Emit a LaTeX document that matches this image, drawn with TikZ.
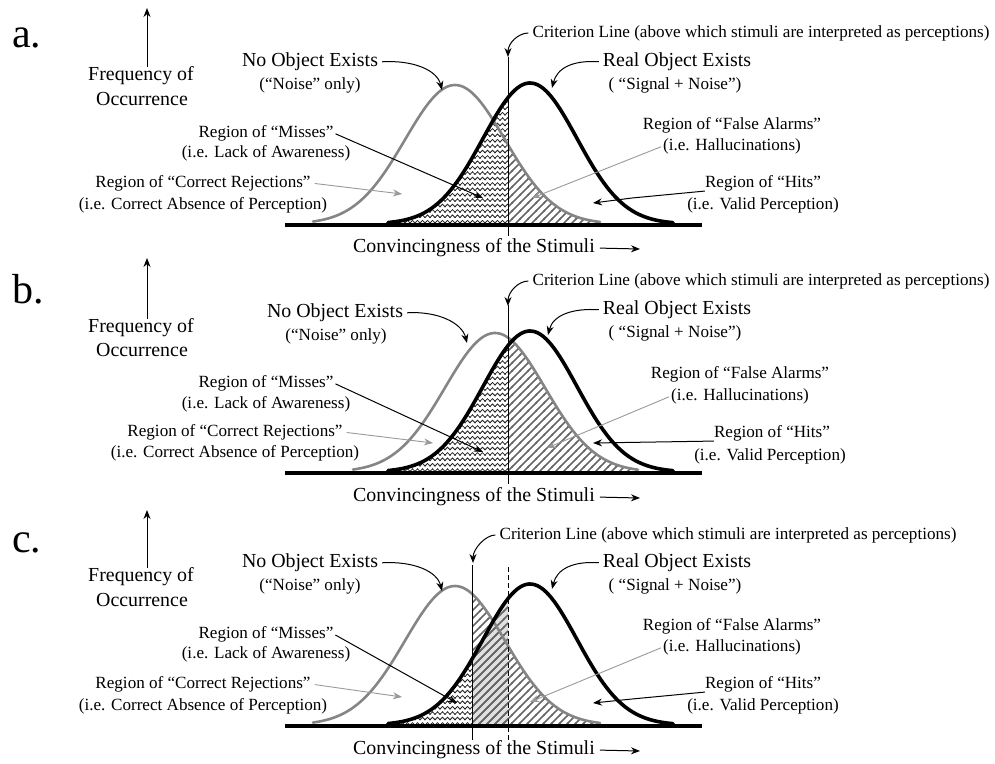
\documentclass[tikz,border=0pt]{standalone}
\usepackage{fontspec}
\setmainfont{Liberation Serif}
\usetikzlibrary{arrows.meta,patterns.meta}

\tikzdeclarepattern{
  name=zigzag,
  type=uncolored,
  bounding box={(-1pt,-1pt) and (6pt,7pt)},
  tile size={(5pt,5.4pt)},
  code={\draw[line width=0.8pt] (-0.6pt,0.6pt) -- (0pt,0pt) -- (2.5pt,2.6pt) -- (5pt,0pt) -- (5.6pt,0.6pt);}
}
\tikzdeclarepattern{
  name=diag,
  type=uncolored,
  bounding box={(-1pt,-1pt) and (9pt,9pt)},
  tile size={(8pt,8pt)},
  code={\draw[line width=1.5pt] (-1pt,-1pt) -- (9pt,9pt);}
}

\begin{document}
\begin{tikzpicture}[x=1pt,y=-1pt,
  declare function={ga(\x,\m,\s,\h)=224-\h*exp(-0.5*((\x-\m)/\s)*((\x-\m)/\s));},
  big/.style={font=\fontsize{19.9}{23}\selectfont, inner sep=0pt},
  small/.style={font=\fontsize{17.1}{20}\selectfont, inner sep=0pt},
  letter/.style={font=\fontsize{42}{46}\selectfont, inner sep=0pt, anchor=base west},
  noisecurve/.style={draw=black!48, line width=2.6pt, line join=round, line cap=round},
  signalcurve/.style={draw=black, line width=3.6pt, line join=round, line cap=round},
  axisline/.style={line width=4pt},
  critline/.style={line width=1pt},
  dashcrit/.style={line width=1pt, dash pattern=on 5pt off 3pt},
  pointer/.style={-{Stealth[length=9pt,width=7pt]}, line width=1pt},
  graypointer/.style={pointer, draw=black!40, line width=0.9pt},
  zz/.style={pattern=zigzag, pattern color=black!85},
  dg/.style={pattern=diag, pattern color=black!60},
]
\useasboundingbox (0,0) rectangle (995,763);

% ---------------- left column ----------------
\node[letter] (letA) at (12,47) {a.};
\node[letter] (letB) at (12,303) {b.};
\node[letter] (letC) at (12,552) {c.};

\node[big] (freqA1) at (141,76) {Frequency of};
\node[big] (freqA2) at (142,99) {Occurrence};
\coordinate (ftopA) at (147,8);
\draw[pointer] (ftopA |- freqA1.north) -- (ftopA);

\node[big] (freqB1) at (141,328) {Frequency of};
\node[big] (freqB2) at (142,350) {Occurrence};
\coordinate (ftopB) at (147,258);
\draw[pointer] (ftopB |- freqB1.north) -- (ftopB);

\node[big] (freqC1) at (141,577) {Frequency of};
\node[big] (freqC2) at (142,600) {Occurrence};
\coordinate (ftopC) at (147,510);
\draw[pointer] (ftopC |- freqC1.north) -- (ftopC);

% ---------------- panel a ----------------
\begin{scope}
\fill[zz] (388,224) -- plot[domain=388:508,samples=60] (\x,{ga(\x,530,47,141)}) -- (508,224) -- cycle;
\fill[dg] (508,224) -- plot[domain=508:600,samples=50] (\x,{ga(\x,455,50,139)}) -- (600,224) -- cycle;
\draw[noisecurve] plot[domain=313:600,samples=100] (\x,{ga(\x,455,50,139)});
\draw[signalcurve] plot[domain=388:673,samples=100] (\x,{ga(\x,530,47,141)});
\draw[axisline] (285,225) -- (702,225);
\draw[critline] (508,57) -- (508,236);

\node[small] (critA) at (761,33) {Criterion Line (above which stimuli are interpreted as perceptions)};
\coordinate (crittipA) at (508,57);
\draw[pointer, shorten <=4pt] (critA.west) .. controls +(-14,0) and +(0,-14) .. (crittipA);

\node[big] (noiseA1) at (310,62) {No Object Exists};
\node[small] (noiseA2) at (310,85) {(“Noise” only)};
\coordinate (noisetipA) at (442,90);
\draw[pointer, shorten <=4pt] (noiseA1.east) .. controls +(35,-2) and +(-5,-20) .. (noisetipA);

\node[big] (realA1) at (677,62) {Real Object Exists};
\node[small] (realA2) at (675,85) {( “Signal + Noise”)};
\coordinate (realtipA) at (552,88);
\draw[pointer, shorten <=4pt] (realA1.west) .. controls +(-30,-2) and +(5,-20) .. (realtipA);

\node[small] (missA1) at (266,133) {Region of “Misses”};
\node[small] (missA2) at (266,153) {(i.e. Lack of Awareness)};
\coordinate (misstipA) at (483,198);
\draw[pointer, shorten <=2pt] (missA1.east) -- (misstipA);

\node[small] (crA1) at (203,183) {Region of “Correct Rejections”};
\node[small] (crA2) at (203,205) {(i.e. Correct Absence of Perception)};
\coordinate (crtipA) at (402,194);
\draw[graypointer, shorten <=4pt] (crA1.east) -- (crtipA);

\node[small] (faA1) at (732,125) {Region of “False Alarms”};
\node[small] (faA2) at (732,146) {(i.e. Hallucinations)};
\coordinate (fatipA) at (532,198);
\draw[graypointer, shorten <=2pt] (faA2.west) -- (fatipA);

\node[small] (hitA1) at (763,183) {Region of “Hits”};
\node[small] (hitA2) at (763,205) {(i.e. Valid Perception)};
\coordinate (hitbendA) at (632,198);
\coordinate (hittipA) at (593,203);
\draw[pointer] (hitA1.south west) -- (hitbendA) -- (hittipA);

\node[big] (convA) at (474,248) {Convincingness of the Stimuli};
\coordinate (convtipA) at (640,249);
\draw[pointer, shorten <=5pt] (convA.east) -- (convtipA);
\end{scope}

% ---------------- panel b ----------------
\begin{scope}[yshift=-248pt]
\fill[zz] (388,224) -- plot[domain=388:508,samples=60] (\x,{ga(\x,530,47,141)}) -- (508,224) -- cycle;
\fill[dg] (508,224) -- plot[domain=508:638,samples=60] (\x,{ga(\x,495,50,139)}) -- (638,224) -- cycle;
\draw[noisecurve] plot[domain=353:638,samples=100] (\x,{ga(\x,495,50,139)});
\draw[signalcurve] plot[domain=388:673,samples=100] (\x,{ga(\x,530,47,141)});
\draw[axisline] (285,225) -- (702,225);
\draw[critline] (508,57) -- (508,236);

\node[small] (critB) at (761,33) {Criterion Line (above which stimuli are interpreted as perceptions)};
\coordinate (crittipB) at (508,58);
\draw[pointer, shorten <=4pt] (critB.west) .. controls +(-14,0) and +(0,-14) .. (crittipB);

\node[big] (noiseB1) at (335,65) {No Object Exists};
\node[small] (noiseB2) at (336,88) {(“Noise” only)};
\coordinate (noisetipB) at (467,95);
\draw[pointer, shorten <=4pt] (noiseB1.east) .. controls +(35,-2) and +(-5,-20) .. (noisetipB);

\node[big] (realB1) at (677,62) {Real Object Exists};
\node[small] (realB2) at (675,85) {( “Signal + Noise”)};
\coordinate (realtipB) at (548,87);
\draw[pointer, shorten <=4pt] (realB1.west) .. controls +(-30,-2) and +(5,-20) .. (realtipB);

\node[small] (missB1) at (266,135) {Region of “Misses”};
\node[small] (missB2) at (266,156) {(i.e. Lack of Awareness)};
\coordinate (misstipB) at (483,204);
\draw[pointer, shorten <=2pt] (missB1.east) -- (misstipB);

\node[small] (crB1) at (235,184) {Region of “Correct Rejections”};
\node[small] (crB2) at (235,205) {(i.e. Correct Absence of Perception)};
\coordinate (crtipB) at (433,195);
\draw[graypointer, shorten <=4pt] (crB1.east) -- (crtipB);

\node[small] (faB1) at (740,126) {Region of “False Alarms”};
\node[small] (faB2) at (740,148) {(i.e. Hallucinations)};
\coordinate (fatipB) at (547,200);
\draw[graypointer, shorten <=2pt] (faB2.west) -- (fatipB);

\node[small] (hitB1) at (772,185) {Region of “Hits”};
\node[small] (hitB2) at (770,208) {(i.e. Valid Perception)};
\coordinate (hittipB) at (593,195);
\draw[pointer] (hitB1.south west) -- (hittipB);

\node[big] (convB) at (474,249) {Convincingness of the Stimuli};
\coordinate (convtipB) at (640,250);
\draw[pointer, shorten <=5pt] (convB.east) -- (convtipB);
\end{scope}

% ---------------- panel c ----------------
\begin{scope}[yshift=-501pt]
\fill[zz] (388,224) -- plot[domain=388:472,samples=50] (\x,{ga(\x,530,47,141)}) -- (472,224) -- cycle;
\fill[black!12] (472,224) -- plot[domain=472:508,samples=30] (\x,{ga(\x,530,47,141)}) -- (508,224) -- cycle;
\fill[dg] (472,224) -- plot[domain=472:508,samples=30] (\x,{ga(\x,530,47,141)}) -- (508,224) -- cycle;
\fill[dg] (472,224) -- plot[domain=472:600,samples=60] (\x,{ga(\x,455,50,139)}) -- (600,224) -- cycle;
\draw[noisecurve] plot[domain=313:600,samples=100] (\x,{ga(\x,455,50,139)});
\draw[signalcurve] plot[domain=388:673,samples=100] (\x,{ga(\x,530,47,141)});
\draw[axisline] (285,225) -- (702,225);
\draw[critline] (472,64) -- (472,239);
\draw[dashcrit] (508,66) -- (508,239);

\node[small] (critC) at (728,34) {Criterion Line (above which stimuli are interpreted as perceptions)};
\coordinate (crittipC) at (473,62);
\draw[pointer, shorten <=4pt] (critC.west) .. controls +(-14,0) and +(0,-14) .. (crittipC);

\node[big] (noiseC1) at (310,62) {No Object Exists};
\node[small] (noiseC2) at (310,85) {(“Noise” only)};
\coordinate (noisetipC) at (442,90);
\draw[pointer, shorten <=4pt] (noiseC1.east) .. controls +(35,-2) and +(-5,-20) .. (noisetipC);

\node[big] (realC1) at (677,62) {Real Object Exists};
\node[small] (realC2) at (675,85) {( “Signal + Noise”)};
\coordinate (realtipC) at (552,88);
\draw[pointer, shorten <=4pt] (realC1.west) .. controls +(-30,-2) and +(5,-20) .. (realtipC);

\node[small] (missC1) at (266,133) {Region of “Misses”};
\node[small] (missC2) at (266,153) {(i.e. Lack of Awareness)};
\coordinate (misstipC) at (457,202);
\draw[pointer, shorten <=2pt] (missC1.east) -- (misstipC);

\node[small] (crC1) at (203,183) {Region of “Correct Rejections”};
\node[small] (crC2) at (203,205) {(i.e. Correct Absence of Perception)};
\coordinate (crtipC) at (402,196);
\draw[graypointer, shorten <=4pt] (crC1.east) -- (crtipC);

\node[small] (faC1) at (732,125) {Region of “False Alarms”};
\node[small] (faC2) at (732,146) {(i.e. Hallucinations)};
\coordinate (fatipC) at (530,201);
\draw[graypointer, shorten <=2pt] (faC2.west) -- (fatipC);

\node[small] (hitC1) at (763,183) {Region of “Hits”};
\node[small] (hitC2) at (763,205) {(i.e. Valid Perception)};
\coordinate (hitbendC) at (632,198);
\coordinate (hittipC) at (593,202);
\draw[pointer] (hitC1.south west) -- (hitbendC) -- (hittipC);

\node[big] (convC) at (474,249) {Convincingness of the Stimuli};
\coordinate (convtipC) at (640,250);
\draw[pointer, shorten <=5pt] (convC.east) -- (convtipC);
\end{scope}
\end{tikzpicture}
\end{document}
